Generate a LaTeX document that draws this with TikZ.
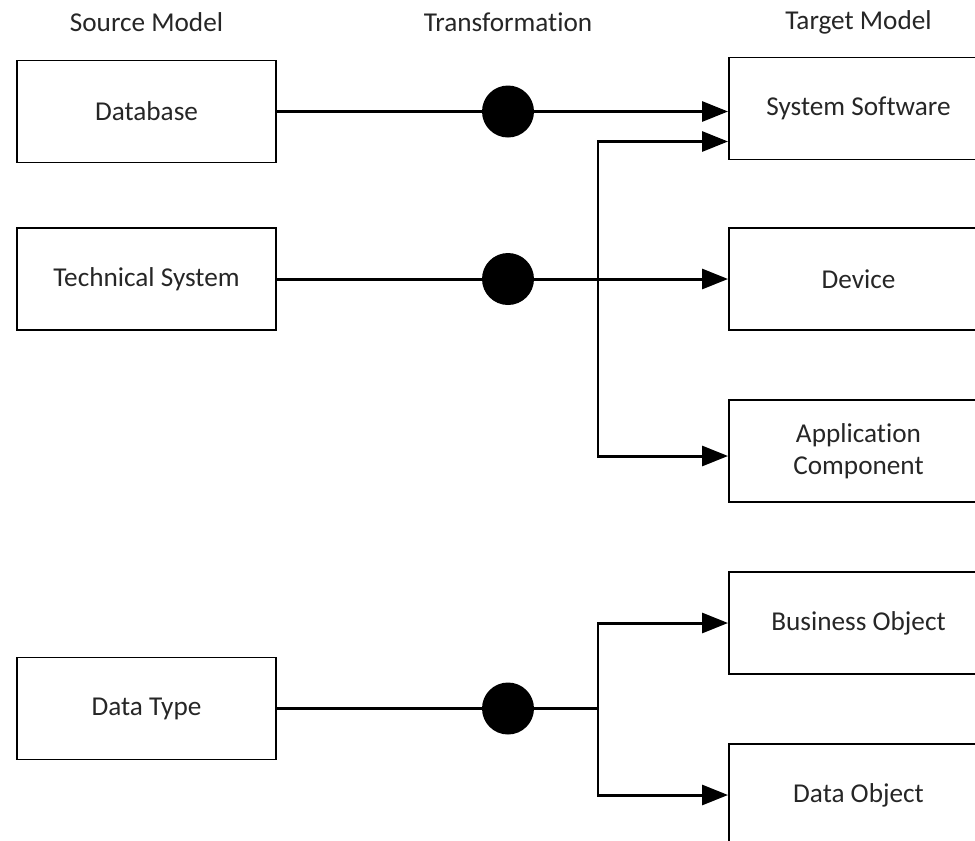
\documentclass[tikz,border=0pt]{standalone}
\usepackage{fontspec}
\setmainfont[Ligatures={NoCommon}]{Carlito}
\usetikzlibrary{positioning, arrows.meta}

\begin{document}
\begin{tikzpicture}[
        box/.style={draw, line width=1.1pt, rectangle, minimum width=5.18cm, minimum height=2.04cm, align=center, text=black!85, font=\fontsize{15.5}{18.2}\selectfont},
        dot/.style={circle, fill=black, minimum size=1.04cm, inner sep=0pt},
        line/.style={line width=1.7pt},
        arrow/.style={line width=1.7pt, -{Triangle[length=0.52cm, width=0.4cm]}},
        header/.style={text=black!85, font=\fontsize{15.5}{18.2}\selectfont}
    ]

    \clip (0,0) rectangle (19.5,-16.82);

    % Column headers
    \node[header] (H1) at (2.93,-0.44)  {Source Model};
    \node[header] (H2) at (10.16,-0.44) {Transformation};
    \node[header] (H3) at (17.17,-0.44) {Target Model};

    % Source model
    \node[box] (S1) at (2.93,-2.23)  {Database};
    \node[box] (S2) at (2.93,-5.58)  {Technical System};
    \node[box] (S3) at (2.93,-14.17) {Data Type};

    % Target model
    \node[box] (T1) at (17.17,-2.17)  {System Software};
    \node[box] (T2) at (17.17,-5.58)  {Device};
    \node[box] (T3) at (17.17,-9.02)  {Application\\Component};
    \node[box] (T4) at (17.17,-12.46) {Business Object};
    \node[box] (T5) at (17.17,-15.9)  {Data Object};

    % Transformations
    \node[dot] (C1) at (10.16,-2.23)  {};
    \node[dot] (C2) at (10.16,-5.58)  {};
    \node[dot] (C3) at (10.16,-14.17) {};

    % Branch points
    \coordinate (B1) at (11.96,-5.58);
    \coordinate (B2) at (11.96,-14.17);

    % Database
    \draw[line]  (S1.east) -- (C1);
    \draw[arrow] (C1) -- (C1 -| T1.west);

    % Technical System
    \draw[line]  (S2.east) -- (C2);
    \draw[arrow] (C2) -- (T2.west);
    \draw[arrow] (B1) |- ([yshift=-0.66cm]T1.west);
    \draw[arrow] (B1) |- ([yshift=-0.1cm]T3.west);

    % Data Type
    \draw[line]  (S3.east) -- (C3);
    \draw[line]  (C3) -- (B2);
    \draw[arrow] (B2) |- (T4.west);
    \draw[arrow] (B2) |- (T5.west);

\end{tikzpicture}
\end{document}
